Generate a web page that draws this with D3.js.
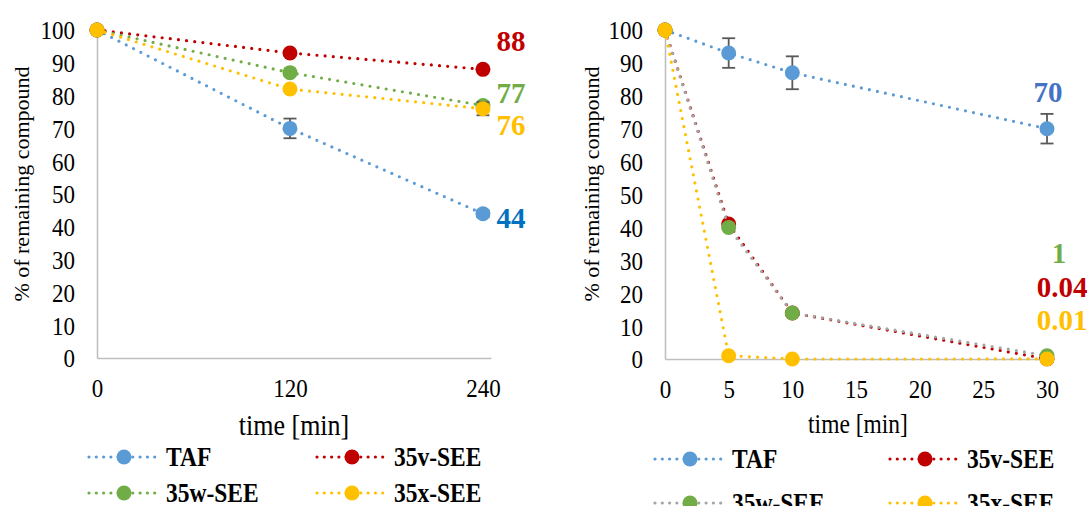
<!DOCTYPE html>
<html>
<head>
<meta charset="utf-8">
<script src="https://cdn.jsdelivr.net/npm/d3@7"></script>
<style>
  html, body { margin: 0; padding: 0; background: #fff; }
  svg { display: block; font-family: "Liberation Serif", "Times New Roman", serif; }
</style>
</head>
<body>
<svg id="chart" width="1089" height="506"></svg>
<script>
// Share of compound remaining over incubation time, two time scales.
const seriesNames = ["TAF", "35v-SEE", "35w-SEE", "35x-SEE"];
const yTicks = [0, 10, 20, 30, 40, 50, 60, 70, 80, 90, 100];

// Panel A: 0–240 min
const timesA = [0, 120, 240];
const xTicksA = [0, 120, 240];
const tafA = [100, 70, 44];
const tafErrA = [0, 3, 1];
const see35vA = [100, 93, 88];
const see35wA = [100, 87, 77];
const see35xA = [100, 82, 76];
const see35xErrA = [0, 0, 2];

// Panel B: 0–30 min
const timesB = [0, 5, 10, 30];
const xTicksB = [0, 5, 10, 15, 20, 25, 30];
const tafB = [100, 93, 87, 70];
const tafErrB = [0, 4.5, 5, 4.5];
const see35vB = [100, 41, 14, 0.04];
const see35wB = [100, 40, 14, 1];
const see35xB = [100, 1, 0, 0.01];

const BLUE = "#5B9BD5", RED = "#C00000", GREEN = "#70AD47", GOLD = "#FFC000", GREY = "#A5A5A5";
const AXIS = "#BFBFBF", ERR = "#595959";
const FONT = "'Liberation Serif', 'Times New Roman', serif";
const SY = 1.12; // glyphs are drawn slightly taller than wide

const svg = d3.select("#chart");

function dotted(sel, color) {
  return sel.attr("fill", "none")
    .attr("stroke", color)
    .attr("stroke-width", 3.2)
    .attr("stroke-linecap", "round")
    .attr("stroke-dasharray", "0 8.2");
}

function place(sel, x, y, sy = SY) {
  return sel.attr("x", 0).attr("y", 0)
    .attr("transform", `translate(${x},${y}) scale(1,${sy})`);
}

function drawPanel(opt) {
  const g = svg.append("g");
  const x = d3.scaleLinear().domain(opt.xDomain).range(opt.xRange);
  const y = d3.scaleLinear().domain([0, 100]).range(opt.yRange);

  // axes
  const yAxis = g.append("g")
    .attr("transform", `translate(${opt.xRange[0]},0)`)
    .call(d3.axisLeft(y).tickValues(yTicks).tickSize(0));
  const xAxis = g.append("g")
    .attr("transform", `translate(0,${opt.yRange[0]})`)
    .call(d3.axisBottom(x).tickValues(opt.xTicks).tickSize(0));
  [yAxis, xAxis].forEach(a => {
    a.attr("font-family", FONT);
    a.select(".domain").attr("stroke", AXIS).attr("stroke-width", 1.6);
    a.selectAll("text").attr("fill", "#000").attr("font-size", 23)
      .attr("dominant-baseline", "central").attr("dy", null);
  });
  yAxis.selectAll("text").call(place, -22, 0);
  xAxis.selectAll("text").call(place, 0, 30);

  // axis titles
  g.append("text")
    .attr("transform", `translate(${opt.yTitle[0]},${opt.yTitle[1]}) rotate(-90)`)
    .attr("text-anchor", "middle").attr("dominant-baseline", "central")
    .attr("font-size", 22).text("% of remaining compound");
  g.append("text")
    .call(place, opt.xTitle[0], opt.xTitle[1])
    .attr("text-anchor", "middle").attr("dominant-baseline", "central")
    .attr("font-size", opt.xTitleSize).text("time [min]");

  const line = d3.line().x(d => x(d.t)).y(d => y(d.v));
  const pointsOf = s => opt.times.map((t, i) => ({ t, v: s.values[i], e: s.errors ? s.errors[i] : 0 }));

  opt.series.forEach(s => {
    const pts = pointsOf(s);
    g.append("path").datum(pts).attr("d", line).call(dotted, s.lineColor);

    const eb = pts.filter(p => p.e > 0);
    const eg = g.append("g").attr("stroke", ERR).attr("stroke-width", 1.8);
    eg.selectAll("line.v").data(eb).join("line")
      .attr("x1", p => x(p.t)).attr("x2", p => x(p.t))
      .attr("y1", p => y(p.v - p.e)).attr("y2", p => y(p.v + p.e));
    eg.selectAll("line.top").data(eb).join("line")
      .attr("x1", p => x(p.t) - 6.5).attr("x2", p => x(p.t) + 6.5)
      .attr("y1", p => y(p.v + p.e)).attr("y2", p => y(p.v + p.e));
    eg.selectAll("line.bot").data(eb).join("line")
      .attr("x1", p => x(p.t) - 6.5).attr("x2", p => x(p.t) + 6.5)
      .attr("y1", p => y(p.v - p.e)).attr("y2", p => y(p.v - p.e));

    g.selectAll(null).data(pts).join("circle")
      .attr("cx", p => x(p.t)).attr("cy", p => y(p.v)).attr("r", 7.5)
      .attr("fill", s.color);
  });

  // end-point value labels
  opt.series.forEach(s => {
    const last = opt.times.length - 1;
    g.append("text")
      .call(place, x(opt.times[last]) + s.label.dx, y(s.values[last]) + s.label.dy, 1.04)
      .attr("text-anchor", "middle").attr("dominant-baseline", "central")
      .attr("font-size", 29).attr("font-weight", "bold")
      .attr("fill", s.label.color)
      .text(String(s.values[last]));
  });

  // legend
  const lg = g.append("g");
  opt.legend.forEach((item, i) => {
    const s = opt.series[i];
    const [lx, ly] = item;
    lg.append("line").attr("x1", lx).attr("x2", lx + 70).attr("y1", ly).attr("y2", ly)
      .call(dotted, s.lineColor).attr("stroke-dasharray", "0 7.3");
    lg.append("circle").attr("cx", lx + 35).attr("cy", ly).attr("r", 7.5).attr("fill", s.color);
    lg.append("text").call(place, lx + 77, ly)
      .attr("dominant-baseline", "central")
      .attr("font-size", 23.5).attr("font-weight", "bold").attr("fill", "#000")
      .text(seriesNames[i]);
  });
}

drawPanel({
  times: timesA,
  xTicks: xTicksA,
  xDomain: [0, 245],
  xRange: [97, 491],
  yRange: [358, 30],
  yTitle: [21, 184],
  xTitle: [294, 425],
  xTitleSize: 26,
  series: [
    { values: tafA, errors: tafErrA, color: BLUE, lineColor: BLUE, label: { color: "#0070C0", dx: 28, dy: 4 } },
    { values: see35vA, color: RED, lineColor: RED, label: { color: RED, dx: 28, dy: -29 } },
    { values: see35wA, color: GREEN, lineColor: GREEN, label: { color: GREEN, dx: 28, dy: -13 } },
    { values: see35xA, errors: see35xErrA, color: GOLD, lineColor: GOLD, label: { color: GOLD, dx: 28, dy: 16 } }
  ],
  legend: [[89, 457], [317, 457], [89, 493], [317, 493]]
});

drawPanel({
  times: timesB,
  xTicks: xTicksB,
  xDomain: [0, 30],
  xRange: [665, 1047],
  yRange: [359, 30],
  yTitle: [591, 184],
  xTitle: [858, 424],
  xTitleSize: 23.5,
  series: [
    { values: tafB, errors: tafErrB, color: BLUE, lineColor: BLUE, label: { color: "#4472C4", dx: 1, dy: -37 } },
    { values: see35vB, color: RED, lineColor: RED, label: { color: RED, dx: 15, dy: -72 } },
    { values: see35wB, color: GREEN, lineColor: GREY, label: { color: GREEN, dx: 12, dy: -103 } },
    { values: see35xB, color: GOLD, lineColor: GOLD, label: { color: GOLD, dx: 15, dy: -39 } }
  ],
  legend: [[655, 459], [890, 459], [655, 503], [890, 503]]
});
</script>
</body>
</html>
